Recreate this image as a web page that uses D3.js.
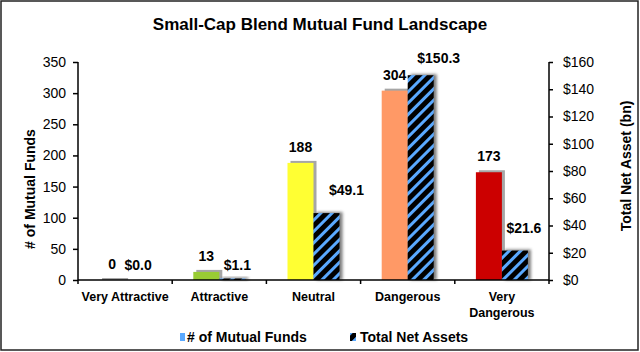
<!DOCTYPE html>
<html lang="en">
<head>
  <meta charset="UTF-8">
  <title>Small-Cap Blend Mutual Fund Landscape</title>
  <style>
    body { margin: 0; background: #fff; }
    svg { display: block; font-family: Arial, "Liberation Sans", sans-serif; }
  </style>
</head>
<body>
<div class="chart"></div>
<script src="https://d3js.org/d3.v7.min.js"></script>
<script>
  // data
  let categories = ['Very Attractive', 'Attractive', 'Neutral', 'Dangerous', 'Very Dangerous']
  let fundCounts = [0, 13, 188, 304, 173]
  let netAssets = [0.0, 1.1, 49.1, 150.3, 21.6]
  let leftTicks = [0, 50, 100, 150, 200, 250, 300, 350]
  let rightTicks = [0, 20, 40, 60, 80, 100, 120, 140, 160]

  let barColors = ['#b3b3b3', '#99cc33', '#ffff33', '#ff9966', '#cc0000']
  // small manual nudges for the $ labels, like the hand-placed ones in the original
  let assetLabelDx = [0, 5, 20, 18, 9]
  let assetLabelDy = [-10, -9, -18, -12, -18]

  let W = 640, H = 352
  let pL = 78, pR = 549, pT = 62, pB = 280

  let svg = d3.select('.chart').append('svg')
    .attr('width', W)
    .attr('height', H)

  let defs = svg.append('defs')
  let pat = defs.append('pattern')
    .attr('id', 'hatch')
    .attr('patternUnits', 'userSpaceOnUse')
    .attr('width', 8)
    .attr('height', 8)
    .attr('patternTransform', 'rotate(45)')
  pat.append('rect').attr('width', 8).attr('height', 8).attr('fill', '#000')
  pat.append('rect').attr('x', 0).attr('width', 3).attr('height', 8).attr('fill', '#5aa9ff')

  let blur = defs.append('filter').attr('id', 'blur')
    .attr('x', '-50%').attr('y', '-50%').attr('width', '200%').attr('height', '200%')
  blur.append('feGaussianBlur').attr('stdDeviation', 1.5)

  // border
  svg.append('rect')
    .attr('x', 1).attr('y', 1)
    .attr('width', W - 3).attr('height', H - 3)
    .attr('fill', 'none')
    .attr('stroke', '#222')
    .attr('stroke-width', 1.5)

  svg.append('text')
    .attr('x', 320).attr('y', 30)
    .attr('text-anchor', 'middle')
    .attr('font-size', '17px')
    .attr('font-weight', 'bold')
    .text('Small-Cap Blend Mutual Fund Landscape')

  let x = d3.scaleBand().domain(categories).range([pL, pR])
  let yL = d3.scaleLinear().domain([0, 350]).range([pB, pT])
  let yR = d3.scaleLinear().domain([0, 160]).range([pB, pT])

  let bw = 26
  let rows = categories.map((c, i) => ({c, i, n: fundCounts[i], a: netAssets[i]}))

  // shadows for count bars
  svg.selectAll('.sh1').data(rows).enter().append('rect')
    .attr('x', d => x(d.c) + x.bandwidth() / 2 - bw + 3)
    .attr('y', d => yL(d.n) - 2)
    .attr('width', bw)
    .attr('height', d => pB - yL(d.n) + 2)
    .attr('fill', '#a6a6a6')

  svg.selectAll('.b1').data(rows).enter().append('rect')
    .attr('x', d => x(d.c) + x.bandwidth() / 2 - bw)
    .attr('y', d => yL(d.n))
    .attr('width', bw)
    .attr('height', d => pB - yL(d.n))
    .attr('fill', (d, i) => barColors[i])

  // shadows for asset bars
  svg.selectAll('.sh2').data(rows.filter(d => d.a > 0)).enter().append('rect')
    .attr('x', d => x(d.c) + x.bandwidth() / 2 + 3)
    .attr('y', d => yR(d.a) - 1)
    .attr('width', bw)
    .attr('height', d => pB - yR(d.a) + 1)
    .attr('fill', '#444')
    .attr('opacity', 0.7)
    .attr('filter', 'url(#blur)')

  svg.selectAll('.b2').data(rows).enter().append('rect')
    .attr('x', d => x(d.c) + x.bandwidth() / 2)
    .attr('y', d => yR(d.a))
    .attr('width', bw)
    .attr('height', d => pB - yR(d.a))
    .attr('fill', 'url(#hatch)')

  // axes
  let axL = svg.append('g')
    .attr('transform', `translate(${pL},0)`)
    .call(d3.axisLeft(yL).tickValues(leftTicks).tickSize(5).tickPadding(7))
  let axR = svg.append('g')
    .attr('transform', `translate(${pR},0)`)
    .call(d3.axisRight(yR).tickValues(rightTicks).tickSize(4).tickPadding(10).tickFormat(d => '$' + d))
  axR.selectAll('.tick text').attr('x', 14)

  ;[axL, axR].forEach(g => {
    g.select('.domain').remove()
    g.selectAll('.tick line').attr('stroke-width', 1.5)
    g.selectAll('.tick text').attr('font-size', '14px').attr('fill', '#000')
      .attr('font-family', 'Arial, "Liberation Sans", sans-serif')
  })
  svg.append('line').attr('x1', pL).attr('x2', pL).attr('y1', pT).attr('y2', pB + 4)
    .attr('stroke', '#000').attr('stroke-width', 1.5)
  svg.append('line').attr('x1', pR).attr('x2', pR).attr('y1', pT).attr('y2', pB + 4)
    .attr('stroke', '#000').attr('stroke-width', 1.5)

  let axB = svg.append('g')
    .attr('transform', `translate(0,${pB})`)
  axB.append('line').attr('x1', pL).attr('x2', pR).attr('stroke', '#000').attr('stroke-width', 1.5)
  axB.selectAll('.tk').data(categories.slice(1)).enter().append('line')
    .attr('x1', d => x(d))
    .attr('x2', d => x(d))
    .attr('y1', 0).attr('y2', 4)
    .attr('stroke', '#000').attr('stroke-width', 1.5)

  // category labels
  let catLabels = svg.selectAll('.cat').data(categories).enter().append('text')
    .attr('text-anchor', 'middle')
    .attr('font-size', '12.5px')
    .attr('font-weight', 'bold')
    .attr('y', 301)
  catLabels.each(function (d) {
    let t = d3.select(this)
    let cx = x(d) + x.bandwidth() / 2
    let lines = d === 'Very Dangerous' ? ['Very', 'Dangerous'] : [d]
    lines.forEach((l, k) => {
      t.append('tspan').attr('x', cx).attr('dy', k ? 16 : 0).text(l)
    })
  })

  // value labels
  svg.selectAll('.v1').data(rows).enter().append('text')
    .attr('x', d => x(d.c) + x.bandwidth() / 2 - bw / 2)
    .attr('y', d => yL(d.n) - 11)
    .attr('text-anchor', 'middle')
    .attr('font-size', '14px')
    .attr('font-weight', 'bold')
    .text(d => d.n)

  svg.selectAll('.v2').data(rows).enter().append('text')
    .attr('x', d => x(d.c) + x.bandwidth() / 2 + bw / 2 + assetLabelDx[d.i])
    .attr('y', d => yR(d.a) + assetLabelDy[d.i])
    .attr('text-anchor', 'middle')
    .attr('font-size', '14px')
    .attr('font-weight', 'bold')
    .text(d => '$' + d.a.toFixed(1))

  // axis titles
  svg.append('text')
    .attr('transform', 'translate(35,189) rotate(-90)')
    .attr('text-anchor', 'middle')
    .attr('font-size', '14px')
    .attr('font-weight', 'bold')
    .text('# of Mutual Funds')
  svg.append('text')
    .attr('transform', 'translate(631,166) rotate(-90)')
    .attr('text-anchor', 'middle')
    .attr('font-size', '14px')
    .attr('font-weight', 'bold')
    .text('Total Net Asset (bn)')

  // legend
  let lg = svg.append('g').attr('transform', 'translate(0,342)')
  lg.append('rect').attr('x', 180).attr('y', -9).attr('width', 5).attr('height', 8).attr('fill', '#5aa9ff')
  lg.append('text').attr('x', 187).attr('font-size', '14px').attr('font-weight', 'bold').text('# of Mutual Funds')
  lg.append('rect').attr('x', 350).attr('y', -9).attr('width', 6).attr('height', 8).attr('fill', 'url(#hatch)')
  lg.append('text').attr('x', 360).attr('font-size', '14px').attr('font-weight', 'bold').text('Total Net Assets')
</script>
</body>
</html>
